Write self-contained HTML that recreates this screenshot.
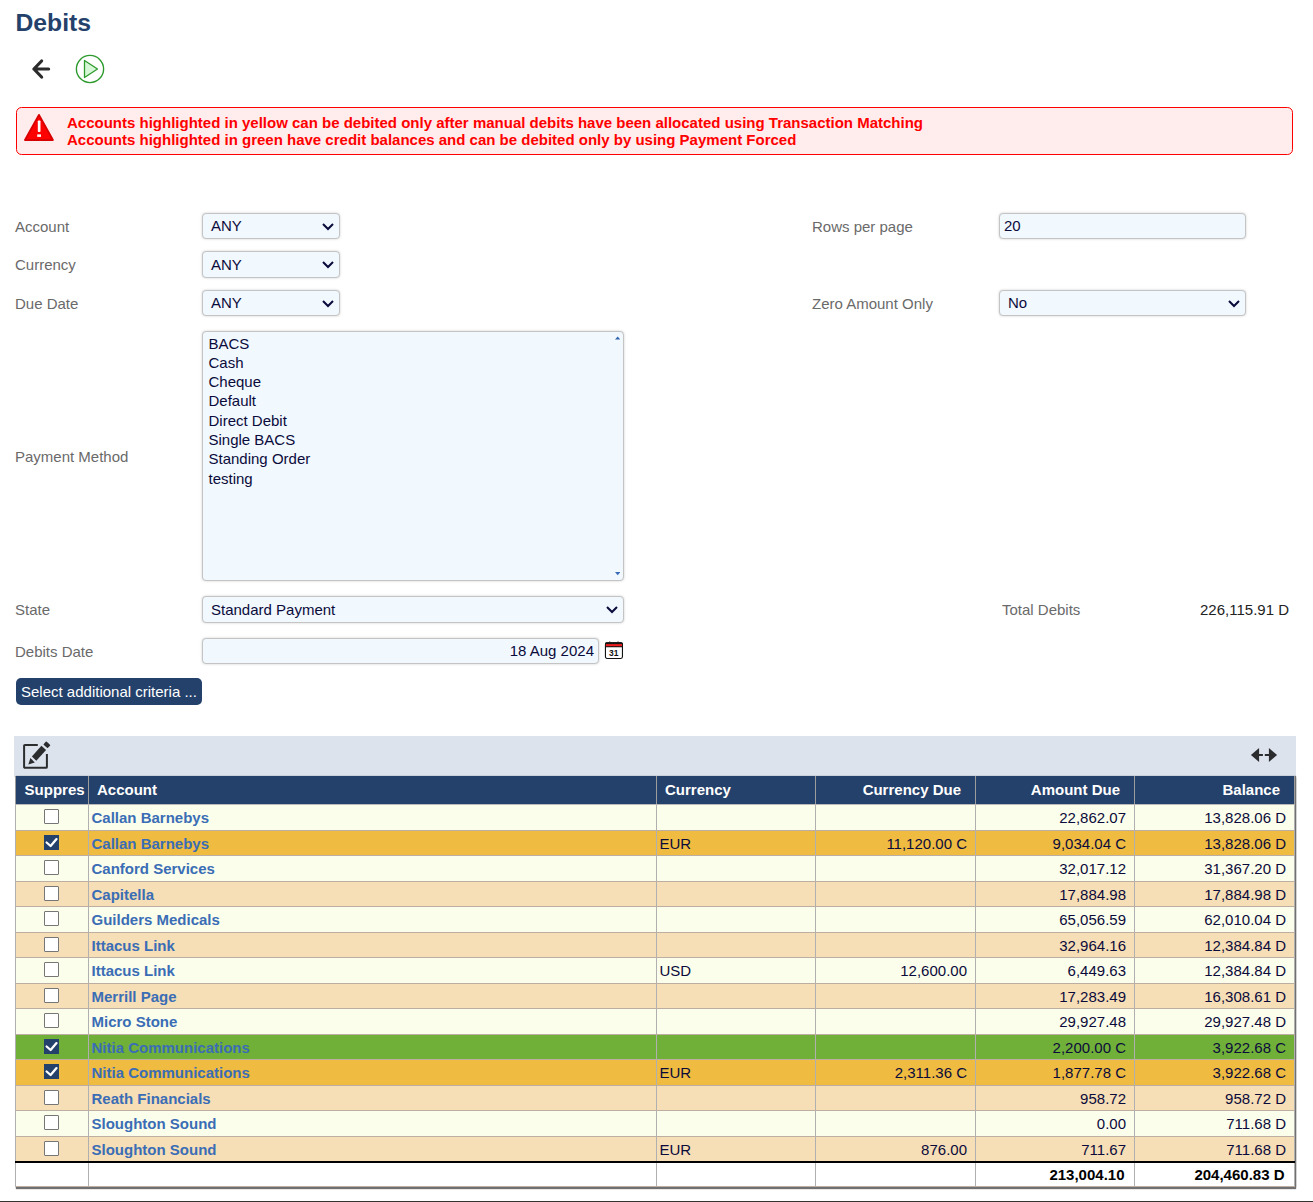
<!DOCTYPE html>
<html><head><meta charset="utf-8"><title>Debits</title>
<style>
*{box-sizing:border-box;margin:0;padding:0}
html,body{width:1313px;height:1202px;overflow:hidden;background:#fff}
body{position:relative;font-family:"Liberation Sans",Arial,sans-serif;font-size:15px;color:#0b0b3b}
.abs{position:absolute}
h1{position:absolute;left:15.500px;top:8px;font-size:24.700px;line-height:30px;font-weight:bold;color:#24416b}
.alert{position:absolute;left:16px;top:107px;width:1277px;height:48px;border:1px solid #f00;border-radius:5.500px;background:#ffeded;color:#f00;font-weight:bold;font-size:15px;line-height:17px;padding:6px 0 0 50px}
.lbl{position:absolute;left:15px;color:#6a6a6a;font-size:15px;line-height:18px;white-space:nowrap}
.ctl{position:absolute;border:1px solid #c4c4c4;border-radius:4px;background:#f1f8fe;box-shadow:0 0 2.500px rgba(0,0,0,.2);font-size:15px;color:#0b0b3b;white-space:nowrap}
.sel{height:26px;line-height:24px;padding-left:8px}
.sel svg{position:absolute;right:5px;top:9px}
.list{left:202px;top:331px;width:422px;height:250px;padding:1.500px 0 0 5.500px;line-height:19.33px}
.btn{position:absolute;left:16px;top:678px;width:186px;height:27px;border-radius:5px;background:#24416b;color:#fff;font-size:15px;line-height:28px;padding-left:5px;white-space:nowrap}
.tbar{position:absolute;left:14px;top:736px;width:1282px;height:41px;background:#dde3ed}
table{position:absolute;left:15px;top:776px;width:1279px;border-collapse:collapse;table-layout:fixed;font-size:15px;color:#0b0b3b;box-shadow:1px 0 1px #707070,1px 2px 1px #707070}
th{background:#24416b;color:#fff;font-weight:bold;height:28.700px;border-left:1px solid #9c9c9c;border-right:1px solid #9c9c9c;border-bottom:1px solid #b9b9b9;padding:0 7.500px 2px 8px;text-align:left;white-space:nowrap;overflow:hidden}
td{height:25.500px;border:1px solid #b0b0b0;border-top-color:#bdaea3;border-bottom-color:#bdaea3;padding:2px 3px 0 2.500px;white-space:nowrap;overflow:hidden;line-height:20px}
th.r,td.r{text-align:right}
td.r{padding-right:8px}
th.r{padding-right:14px}
tr.a td{background:#fbfeeb}
tr.b td{background:#f6deb6}
tr.y td{background:#efbb40}
tr.g td{background:#70b039}
tr.f td{background:#fff;font-weight:bold;color:#000;border-top:2px solid #000;height:25px}tr.f td.r{padding-right:9.500px}
td.n{font-weight:bold;color:#3a6db5;padding-left:2.500px}th:first-child{padding-left:8.600px;padding-right:0}
td.c{text-align:center;padding:2px 0 0}
.cb{display:inline-block;width:15px;height:15px;border:1px solid #767676;border-radius:1px;background:#fff;vertical-align:top;margin-top:1px;position:relative;left:-1px}
.cb.on{background:#24416b;border-color:#24416b;border-radius:0}
.cb.on svg{position:absolute;left:-1px;top:-1px}
.bot{position:absolute;left:0;top:1201px;width:1313px;height:1px;background:#333}
</style></head><body>
<h1>Debits</h1>
<svg class="abs" style="left:28px;top:56px" width="26" height="26" viewBox="0 0 26 26"><path d="M20.600 13H5.900M13.600 5L5.900 13l7.700 8" fill="none" stroke="#2b2b2b" stroke-width="3.200" stroke-linecap="round" stroke-linejoin="round"/></svg>
<svg class="abs" style="left:75px;top:54px" width="30" height="30" viewBox="0 0 30 30"><circle cx="15" cy="15" r="13.600" fill="#fff" stroke="#2e9a2e" stroke-width="1.400"/><path d="M9.500 6.500L22.500 15L9.500 23.500Z" fill="#d6f7d6" stroke="#2e9a2e" stroke-width="1.300" stroke-linejoin="round"/></svg>
<div class="alert">
<svg class="abs" style="left:6px;top:5px" width="32" height="30" viewBox="0 0 32 30"><path d="M15.950 1.900L29.900 27H2Z" fill="#fe0000" stroke="#d80000" stroke-width="1.900" stroke-linejoin="round"/><rect x="14.800" y="7.400" width="2.700" height="11.700" rx="0.800" fill="#fff"/><rect x="14.200" y="21.400" width="3.800" height="2.500" fill="#fff"/></svg>
Accounts highlighted in yellow can be debited only after manual debits have been allocated using Transaction Matching<br>Accounts highlighted in green have credit balances and can be debited only by using Payment Forced</div>

<div class="lbl" style="top:218px">Account</div>
<div class="lbl" style="top:256px">Currency</div>
<div class="lbl" style="top:295px">Due Date</div>
<div class="lbl" style="top:448px">Payment Method</div>
<div class="lbl" style="top:601px">State</div>
<div class="lbl" style="top:643px">Debits Date</div>
<div class="lbl" style="left:812px;top:218px">Rows per page</div>
<div class="lbl" style="left:812px;top:295px">Zero Amount Only</div>
<div class="lbl" style="left:1002px;top:601px">Total Debits</div>
<div class="abs" style="left:1140px;top:601px;width:149px;text-align:right;line-height:18px;color:#222">226,115.91 D</div>

<div class="ctl sel" style="left:202px;top:213px;width:138px">ANY<svg width="12" height="8" viewBox="0 0 12 8"><path d="M1 1l5 5 5-5" fill="none" stroke="#0b0b3b" stroke-width="2"/></svg></div>
<div class="ctl sel" style="left:202px;top:251px;width:138px;height:27px;line-height:25px">ANY<svg width="12" height="8" viewBox="0 0 12 8"><path d="M1 1l5 5 5-5" fill="none" stroke="#0b0b3b" stroke-width="2"/></svg></div>
<div class="ctl sel" style="left:202px;top:290px;width:138px">ANY<svg width="12" height="8" viewBox="0 0 12 8"><path d="M1 1l5 5 5-5" fill="none" stroke="#0b0b3b" stroke-width="2"/></svg></div>
<div class="ctl list">BACS<br>Cash<br>Cheque<br>Default<br>Direct Debit<br>Single BACS<br>Standing Order<br>testing
<svg class="abs" style="right:2.600px;top:4px" width="5.400" height="3.600" viewBox="0 0 6 4"><path d="M0 4L3 0.500L6 4Z" fill="#2f62b0"/></svg>
<svg class="abs" style="right:2.600px;bottom:4.200px" width="5.400" height="3.600" viewBox="0 0 6 4"><path d="M0 0L3 3.500L6 0Z" fill="#3b6cb8"/></svg>
</div>
<div class="ctl sel" style="left:202px;top:596px;width:422px;height:27px;line-height:26px">Standard Payment<svg width="12" height="8" viewBox="0 0 12 8"><path d="M1 1l5 5 5-5" fill="none" stroke="#0b0b3b" stroke-width="2"/></svg></div>
<div class="ctl sel" style="left:202px;top:638px;width:397px;text-align:right;padding-right:4px">18 Aug 2024</div>
<svg class="abs" style="left:604px;top:640px" width="20" height="20" viewBox="0 0 20 20"><rect x="5" y="1.200" width="1.300" height="1.500" fill="#888"/><rect x="13.400" y="1.200" width="1.300" height="1.500" fill="#888"/><rect x="1.450" y="2.900" width="17" height="15.550" rx="1.600" fill="#fff" stroke="#111" stroke-width="1.100"/><path d="M2.500 2.350h14.900a1.500 1.500 0 0 1 1.500 1.500v3.350H1V3.850a1.500 1.500 0 0 1 1.500-1.500z" fill="#151515"/><rect x="1.900" y="4.100" width="16.100" height="2.100" fill="#ee1c1c"/><text x="9.700" y="16" font-size="9.400" font-weight="bold" text-anchor="middle" textLength="9.400" lengthAdjust="spacingAndGlyphs" fill="#111" font-family="Liberation Sans,sans-serif">31</text></svg>
<div class="ctl sel" style="left:999px;top:213px;width:247px;padding-left:4px">20</div>
<div class="ctl sel" style="left:999px;top:290px;width:247px">No<svg width="12" height="8" viewBox="0 0 12 8"><path d="M1 1l5 5 5-5" fill="none" stroke="#0b0b3b" stroke-width="2"/></svg></div>
<div class="btn">Select additional criteria ...</div>

<div class="tbar">
<svg class="abs" style="left:0;top:0" width="44" height="40" viewBox="0 0 44 40"><path d="M23.800 9H11a0.900 0.900 0 0 0-0.900 0.900V30.900a0.900 0.900 0 0 0 0.900 0.900H32a0.900 0.900 0 0 0 0.900-0.900V18" fill="none" stroke="#2b2c2e" stroke-width="2"/><path d="M27.400 9.800L32.100 14L22.300 24.800L17.900 20.400Z" fill="#2b2c2e"/><path d="M16.400 22.100L20.800 26.600L14.300 28.600Z" fill="#2b2c2e"/><path d="M32.300 6.300L35.500 9.200L33.500 11.300L30.300 8.400Z" fill="#2b2c2e" stroke="#2b2c2e" stroke-width="1.400" stroke-linejoin="round"/></svg>
<svg class="abs" style="left:1236px;top:11px" width="28" height="16" viewBox="0 0 28 16"><path d="M0.900 8L9.100 1v14zM27.100 8L18.900 1v14z" fill="#2b2c2e"/><path d="M9 8h3.900M14.800 8H19" stroke="#2b2c2e" stroke-width="2.200" fill="none"/></svg>
</div>
<table>
<colgroup><col style="width:73px"><col style="width:568px"><col style="width:159px"><col style="width:160px"><col style="width:159px"><col style="width:160px"></colgroup>
<tr><th>Suppres</th><th>Account</th><th>Currency</th><th class="r">Currency Due</th><th class="r">Amount Due</th><th class="r">Balance</th></tr>
<tr class="a"><td class="c"><span class="cb"></span></td><td class="n">Callan Barnebys</td><td></td><td class="r"></td><td class="r">22,862.07</td><td class="r">13,828.06 D</td></tr>
<tr class="y"><td class="c"><span class="cb on"><svg width="15" height="15" viewBox="0 0 15 15"><path d="M2.600 7.500L6.600 11L12.500 4.100" fill="none" stroke="#fff" stroke-width="2.300" stroke-linecap="round" stroke-linejoin="round"/></svg></span></td><td class="n">Callan Barnebys</td><td>EUR</td><td class="r">11,120.00 C</td><td class="r">9,034.04 C</td><td class="r">13,828.06 D</td></tr>
<tr class="a"><td class="c"><span class="cb"></span></td><td class="n">Canford Services</td><td></td><td class="r"></td><td class="r">32,017.12</td><td class="r">31,367.20 D</td></tr>
<tr class="b"><td class="c"><span class="cb"></span></td><td class="n">Capitella</td><td></td><td class="r"></td><td class="r">17,884.98</td><td class="r">17,884.98 D</td></tr>
<tr class="a"><td class="c"><span class="cb"></span></td><td class="n">Guilders Medicals</td><td></td><td class="r"></td><td class="r">65,056.59</td><td class="r">62,010.04 D</td></tr>
<tr class="b"><td class="c"><span class="cb"></span></td><td class="n">Ittacus Link</td><td></td><td class="r"></td><td class="r">32,964.16</td><td class="r">12,384.84 D</td></tr>
<tr class="a"><td class="c"><span class="cb"></span></td><td class="n">Ittacus Link</td><td>USD</td><td class="r">12,600.00</td><td class="r">6,449.63</td><td class="r">12,384.84 D</td></tr>
<tr class="b"><td class="c"><span class="cb"></span></td><td class="n">Merrill Page</td><td></td><td class="r"></td><td class="r">17,283.49</td><td class="r">16,308.61 D</td></tr>
<tr class="a"><td class="c"><span class="cb"></span></td><td class="n">Micro Stone</td><td></td><td class="r"></td><td class="r">29,927.48</td><td class="r">29,927.48 D</td></tr>
<tr class="g"><td class="c"><span class="cb on"><svg width="15" height="15" viewBox="0 0 15 15"><path d="M2.600 7.500L6.600 11L12.500 4.100" fill="none" stroke="#fff" stroke-width="2.300" stroke-linecap="round" stroke-linejoin="round"/></svg></span></td><td class="n">Nitia Communications</td><td></td><td class="r"></td><td class="r">2,200.00 C</td><td class="r">3,922.68 C</td></tr>
<tr class="y"><td class="c"><span class="cb on"><svg width="15" height="15" viewBox="0 0 15 15"><path d="M2.600 7.500L6.600 11L12.500 4.100" fill="none" stroke="#fff" stroke-width="2.300" stroke-linecap="round" stroke-linejoin="round"/></svg></span></td><td class="n">Nitia Communications</td><td>EUR</td><td class="r">2,311.36 C</td><td class="r">1,877.78 C</td><td class="r">3,922.68 C</td></tr>
<tr class="b"><td class="c"><span class="cb"></span></td><td class="n">Reath Financials</td><td></td><td class="r"></td><td class="r">958.72</td><td class="r">958.72 D</td></tr>
<tr class="a"><td class="c"><span class="cb"></span></td><td class="n">Sloughton Sound</td><td></td><td class="r"></td><td class="r">0.00</td><td class="r">711.68 D</td></tr>
<tr class="b"><td class="c"><span class="cb"></span></td><td class="n">Sloughton Sound</td><td>EUR</td><td class="r">876.00</td><td class="r">711.67</td><td class="r">711.68 D</td></tr>
<tr class="f"><td></td><td></td><td></td><td></td><td class="r">213,004.10</td><td class="r">204,460.83 D</td></tr>
</table>
<div class="bot"></div>
</body></html>
